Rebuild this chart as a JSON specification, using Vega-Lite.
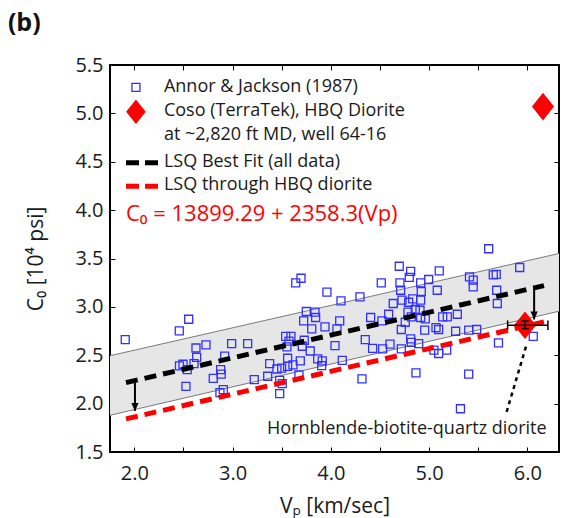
{
  "$schema": "https://vega.github.io/schema/vega-lite/v6.json",
  "width": 449,
  "height": 387,
  "autosize": {"type": "none"},
  "padding": {"left": 110, "top": 65, "right": 4, "bottom": 66},
  "background": "white",
  "title": {"text": "(b)", "anchor": "start", "frame": "bounds", "fontSize": 25, "fontWeight": "bold", "font": "Open Sans", "color": "#111", "dx": -18, "offset": 19},
  "config": {
    "font": "Open Sans",
    "view": {"stroke": "black", "strokeWidth": 2},
    "axis": {"domain": false, "grid": false, "tickColor": "black", "tickWidth": 1, "tickSize": -5, "labelFontSize": 20, "labelColor": "#1a1a1a", "titleFontSize": 21, "titleFontWeight": "normal", "titleColor": "#1a1a1a", "labelFont": "Open Sans", "titleFont": "Open Sans"}
  },
  "datasets": {
    "pts": [
      {"vp":1.908,"c0":2.662},{"vp":2.458,"c0":2.751},{"vp":2.554,"c0":2.872},{"vp":2.628,"c0":2.575},{"vp":2.730,"c0":2.607},
      {"vp":2.635,"c0":2.479},{"vp":2.460,"c0":2.391},{"vp":2.496,"c0":2.407},{"vp":2.539,"c0":2.352},{"vp":2.608,"c0":2.414},
      {"vp":2.526,"c0":2.179},{"vp":2.920,"c0":2.490},{"vp":2.879,"c0":2.352},{"vp":2.885,"c0":2.304},{"vp":2.804,"c0":2.262},
      {"vp":2.872,"c0":2.114},{"vp":2.906,"c0":2.145},{"vp":2.991,"c0":2.621},{"vp":3.154,"c0":2.621},{"vp":3.221,"c0":2.249},
      {"vp":3.358,"c0":2.283},{"vp":3.378,"c0":2.414},{"vp":3.452,"c0":2.358},{"vp":3.500,"c0":2.366},{"vp":3.480,"c0":2.241},
      {"vp":3.506,"c0":2.207},{"vp":3.480,"c0":2.104},{"vp":3.541,"c0":2.696},{"vp":3.595,"c0":2.696},{"vp":3.575,"c0":2.645},
      {"vp":3.554,"c0":2.586},{"vp":3.561,"c0":2.469},{"vp":3.561,"c0":2.386},{"vp":3.615,"c0":2.400},{"vp":3.690,"c0":2.441},
      {"vp":3.676,"c0":2.296},{"vp":3.643,"c0":3.248},{"vp":3.697,"c0":3.296},{"vp":3.710,"c0":2.593},{"vp":3.730,"c0":2.655},
      {"vp":3.751,"c0":2.952},{"vp":3.724,"c0":2.855},{"vp":3.791,"c0":2.544},{"vp":3.806,"c0":2.772},{"vp":3.839,"c0":2.945},
      {"vp":3.846,"c0":2.890},{"vp":3.867,"c0":2.462},{"vp":3.913,"c0":2.441},{"vp":3.907,"c0":2.393},{"vp":3.941,"c0":2.793},
      {"vp":3.961,"c0":3.152},{"vp":4.043,"c0":2.600},{"vp":4.063,"c0":2.772},{"vp":4.091,"c0":2.855},{"vp":4.104,"c0":3.062},
      {"vp":4.117,"c0":2.448},{"vp":4.297,"c0":3.103},{"vp":4.318,"c0":2.255},{"vp":4.351,"c0":2.662},{"vp":4.406,"c0":2.890},
      {"vp":4.426,"c0":2.572},{"vp":4.514,"c0":3.248},{"vp":4.528,"c0":2.565},{"vp":4.521,"c0":2.855},{"vp":4.603,"c0":2.614},
      {"vp":4.636,"c0":3.035},{"vp":4.589,"c0":2.924},{"vp":4.697,"c0":3.420},{"vp":4.704,"c0":3.248},{"vp":4.711,"c0":3.172},
      {"vp":4.725,"c0":3.069},{"vp":4.718,"c0":2.766},{"vp":4.718,"c0":2.565},{"vp":4.758,"c0":2.841},{"vp":4.799,"c0":3.304},
      {"vp":4.813,"c0":3.366},{"vp":4.793,"c0":3.048},{"vp":4.786,"c0":2.945},{"vp":4.819,"c0":2.896},{"vp":4.813,"c0":2.669},
      {"vp":4.819,"c0":2.634},{"vp":4.834,"c0":3.082},{"vp":4.860,"c0":2.973},{"vp":4.867,"c0":2.317},{"vp":4.915,"c0":3.248},
      {"vp":4.921,"c0":3.159},{"vp":4.915,"c0":3.069},{"vp":4.908,"c0":2.965},{"vp":4.915,"c0":2.890},{"vp":4.962,"c0":2.875},
      {"vp":4.956,"c0":2.759},{"vp":4.895,"c0":2.621},{"vp":4.996,"c0":3.283},{"vp":5.084,"c0":3.172},{"vp":5.104,"c0":3.372},
      {"vp":5.071,"c0":2.786},{"vp":5.098,"c0":2.766},{"vp":5.139,"c0":2.896},{"vp":5.186,"c0":2.896},{"vp":5.098,"c0":2.518},
      {"vp":5.050,"c0":2.552},{"vp":5.180,"c0":2.552},{"vp":5.288,"c0":2.924},{"vp":5.271,"c0":2.748},{"vp":5.320,"c0":1.947},
      {"vp":5.404,"c0":2.759},{"vp":5.485,"c0":2.766},{"vp":5.404,"c0":2.304},{"vp":5.412,"c0":3.310},{"vp":5.450,"c0":3.276},
      {"vp":5.450,"c0":3.206},{"vp":5.607,"c0":3.601},{"vp":5.654,"c0":3.330},{"vp":5.684,"c0":3.335},{"vp":5.689,"c0":3.172},
      {"vp":5.695,"c0":3.035},{"vp":5.707,"c0":2.627},{"vp":5.923,"c0":3.407},{"vp":6.061,"c0":2.696}
    ],
    "band": [
      {"vp": 1.753, "lo": 1.88, "hi": 2.495},
      {"vp": 6.323, "lo": 2.955, "hi": 3.552}
    ],
    "fits": [
      {"fit": "all", "vp": 1.916, "c0": 2.217},
      {"fit": "all", "vp": 6.17, "c0": 3.220},
      {"fit": "hbq", "vp": 1.916, "c0": 1.842},
      {"fit": "hbq", "vp": 6.17, "c0": 2.845}
    ],
    "legdash": [
      {"fit": "all", "vp": 1.916, "c0": 4.489},
      {"fit": "all", "vp": 2.245, "c0": 4.489},
      {"fit": "hbq", "vp": 1.916, "c0": 4.248},
      {"fit": "hbq", "vp": 2.245, "c0": 4.248}
    ],
    "arrows": [
      {"vp": 2.007, "top": 2.238, "tip": 1.925},
      {"vp": 6.07, "top": 3.196, "tip": 2.87}
    ],
    "leader": [
      {"vp": 5.99, "c0": 2.60},
      {"vp": 5.79, "c0": 1.915}
    ],
    "ebars": [
      {"x1": 5.80, "x2": 6.21, "y1": 2.81, "y2": 2.81},
      {"x1": 5.80, "x2": 5.80, "y1": 2.76, "y2": 2.86},
      {"x1": 6.21, "x2": 6.21, "y1": 2.76, "y2": 2.86},
      {"x1": 5.977, "x2": 5.977, "y1": 2.775, "y2": 2.855},
      {"x1": 5.94, "x2": 6.015, "y1": 2.855, "y2": 2.855},
      {"x1": 5.94, "x2": 6.015, "y1": 2.775, "y2": 2.775}
    ],
    "legtext": [
      {"vp": 2.302, "c0": 5.268, "t": "Annor & Jackson (1987)"},
      {"vp": 2.302, "c0": 5.023, "t": "Coso (TerraTek), HBQ Diorite"},
      {"vp": 2.302, "c0": 4.775, "t": "at ~2,820 ft MD, well 64-16"},
      {"vp": 2.302, "c0": 4.499, "t": "LSQ Best Fit (all data)"},
      {"vp": 2.302, "c0": 4.255, "t": "LSQ through HBQ diorite"}
    ]
  },
  "resolve": {"axis": {"x": "independent", "y": "independent"}},
  "layer": [
    {
      "data": {"name": "band"},
      "mark": {"type": "area", "color": "#e6e6e6", "opacity": 1},
      "encoding": {
        "x": {"field": "vp", "type": "quantitative", "scale": {"domain": [1.753, 6.323], "nice": false, "zero": false},
              "axis": {"orient": "top", "values": [2, 2.5, 3, 3.5, 4, 4.5, 5, 5.5, 6], "labels": false, "title": null}},
        "y": {"field": "hi", "type": "quantitative", "scale": {"domain": [1.5, 5.5], "nice": false, "zero": false},
              "axis": {"orient": "right", "values": [1.5, 2, 2.5, 3, 3.5, 4, 4.5, 5, 5.5], "labels": false, "title": null}},
        "y2": {"field": "lo"}
      }
    },
    {
      "data": {"name": "band"},
      "mark": {"type": "line", "color": "#7a7a7a", "strokeWidth": 1},
      "encoding": {
        "x": {"field": "vp", "type": "quantitative", "axis": null},
        "y": {"field": "hi", "type": "quantitative", "axis": null}
      }
    },
    {
      "data": {"name": "band"},
      "mark": {"type": "line", "color": "#7a7a7a", "strokeWidth": 1},
      "encoding": {
        "x": {"field": "vp", "type": "quantitative", "axis": null},
        "y": {"field": "lo", "type": "quantitative", "axis": null}
      }
    },
    {
      "data": {"name": "pts"},
      "mark": {"type": "point", "shape": "square", "filled": false, "stroke": "#3030ff", "strokeWidth": 1.3, "size": 64, "opacity": 1},
      "encoding": {
        "x": {"field": "vp", "type": "quantitative",
              "axis": {"orient": "bottom", "values": [2, 2.5, 3, 3.5, 4, 4.5, 5, 5.5, 6], "labelExpr": "datum.value % 1 === 0 ? format(datum.value, '.1f') : ''", "labelPadding": 16, "title": "Vₚ [km/sec]", "titlePadding": 12}},
        "y": {"field": "c0", "type": "quantitative",
              "axis": {"orient": "left", "values": [1.5, 2, 2.5, 3, 3.5, 4, 4.5, 5, 5.5], "format": ".1f", "labelPadding": 12, "title": "C₀ [10⁴ psi]", "titlePadding": 28}}
      }
    },
    {
      "data": {"name": "fits"},
      "mark": {"type": "line", "strokeWidth": 5, "strokeDash": [12, 7], "strokeCap": "butt"},
      "encoding": {
        "x": {"field": "vp", "type": "quantitative", "axis": null},
        "y": {"field": "c0", "type": "quantitative", "axis": null},
        "color": {"field": "fit", "type": "nominal", "scale": {"domain": ["all", "hbq"], "range": ["black", "#ff0000"]}, "legend": null}
      }
    },
    {
      "data": {"name": "legdash"},
      "mark": {"type": "line", "strokeWidth": 5, "strokeDash": [13, 6], "strokeCap": "butt"},
      "encoding": {
        "x": {"field": "vp", "type": "quantitative", "axis": null},
        "y": {"field": "c0", "type": "quantitative", "axis": null},
        "color": {"field": "fit", "type": "nominal", "scale": {"domain": ["all", "hbq"], "range": ["black", "#ff0000"]}, "legend": null}
      }
    },
    {
      "data": {"name": "leader"},
      "mark": {"type": "line", "color": "black", "strokeWidth": 2.5, "strokeDash": [4, 4]},
      "encoding": {
        "x": {"field": "vp", "type": "quantitative", "axis": null},
        "y": {"field": "c0", "type": "quantitative", "axis": null}
      }
    },
    {
      "data": {"values": [{"vp": 5.977, "c0": 2.81}, {"vp": 6.16, "c0": 5.07}]},
      "mark": {"type": "point", "shape": "M0,-1L0.8,0L0,1L-0.8,0Z", "filled": true, "color": "#ff0000", "size": 760, "opacity": 1},
      "encoding": {
        "x": {"field": "vp", "type": "quantitative", "axis": null},
        "y": {"field": "c0", "type": "quantitative", "axis": null}
      }
    },
    {
      "data": {"values": [{"vp": 2.017, "c0": 5.016}]},
      "mark": {"type": "point", "shape": "M0,-1L0.8,0L0,1L-0.8,0Z", "filled": true, "color": "#ff0000", "size": 600, "opacity": 1},
      "encoding": {
        "x": {"field": "vp", "type": "quantitative", "axis": null},
        "y": {"field": "c0", "type": "quantitative", "axis": null}
      }
    },
    {
      "data": {"values": [{"vp": 2.017, "c0": 5.268}]},
      "mark": {"type": "point", "shape": "square", "filled": false, "stroke": "#3030ff", "strokeWidth": 1.3, "size": 64, "opacity": 1},
      "encoding": {
        "x": {"field": "vp", "type": "quantitative", "axis": null},
        "y": {"field": "c0", "type": "quantitative", "axis": null}
      }
    },
    {
      "data": {"name": "ebars"},
      "mark": {"type": "rule", "color": "black", "strokeWidth": 1.5},
      "encoding": {
        "x": {"field": "x1", "type": "quantitative", "axis": null},
        "x2": {"field": "x2"},
        "y": {"field": "y1", "type": "quantitative", "axis": null},
        "y2": {"field": "y2"}
      }
    },
    {
      "data": {"name": "arrows"},
      "mark": {"type": "rule", "color": "black", "strokeWidth": 2},
      "encoding": {
        "x": {"field": "vp", "type": "quantitative", "axis": null},
        "y": {"field": "top", "type": "quantitative", "axis": null},
        "y2": {"field": "tip"}
      }
    },
    {
      "data": {"name": "arrows"},
      "mark": {"type": "point", "shape": "M-0.45,-1L0.45,-1L0,0Z", "filled": true, "color": "black", "size": 256, "opacity": 1},
      "encoding": {
        "x": {"field": "vp", "type": "quantitative", "axis": null},
        "y": {"field": "tip", "type": "quantitative", "axis": null}
      }
    },
    {
      "data": {"name": "legtext"},
      "mark": {"type": "text", "align": "left", "baseline": "middle", "fontSize": 18, "color": "#1a1a1a", "font": "Open Sans"},
      "encoding": {
        "x": {"field": "vp", "type": "quantitative", "axis": null},
        "y": {"field": "c0", "type": "quantitative", "axis": null},
        "text": {"field": "t"}
      }
    },
    {
      "data": {"values": [{"vp": 1.916, "c0": 3.965, "t": "C₀ = 13899.29 + 2358.3(Vp)"}]},
      "mark": {"type": "text", "align": "left", "baseline": "middle", "fontSize": 22, "color": "#ff0000", "font": "Open Sans"},
      "encoding": {
        "x": {"field": "vp", "type": "quantitative", "axis": null},
        "y": {"field": "c0", "type": "quantitative", "axis": null},
        "text": {"field": "t"}
      }
    },
    {
      "data": {"values": [{"vp": 6.197, "c0": 1.742, "t": "Hornblende-biotite-quartz diorite"}]},
      "mark": {"type": "text", "align": "right", "baseline": "middle", "fontSize": 18, "color": "#1a1a1a", "font": "Open Sans"},
      "encoding": {
        "x": {"field": "vp", "type": "quantitative", "axis": null},
        "y": {"field": "c0", "type": "quantitative", "axis": null},
        "text": {"field": "t"}
      }
    }
  ]
}
